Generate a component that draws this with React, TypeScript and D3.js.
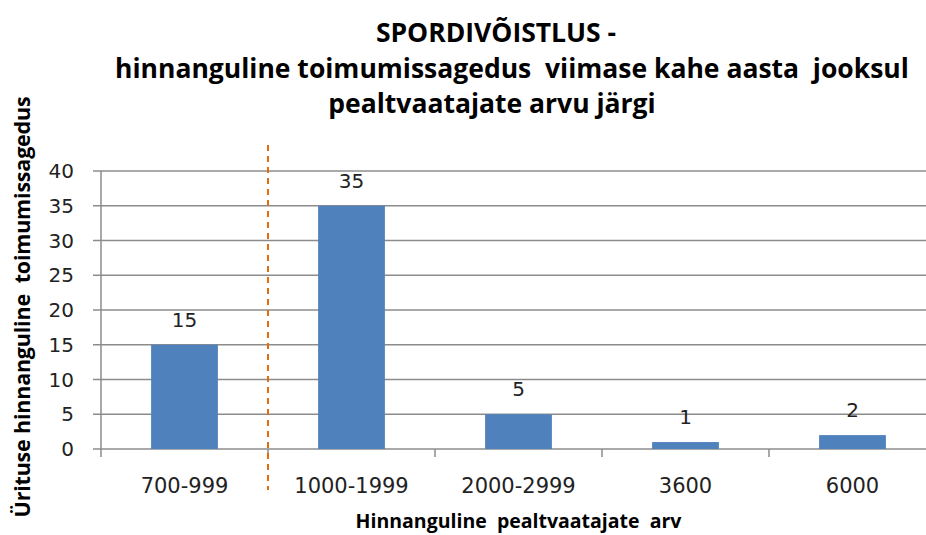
import React, { useEffect, useRef } from 'react';
import * as d3 from 'd3';

const categories = ['700-999', '1000-1999', '2000-2999', '3600', '6000'];
const counts = [15, 35, 5, 1, 2];
const yTicks = [0, 5, 10, 15, 20, 25, 30, 35, 40];
const titleLines = [
  'SPORDIVÕISTLUS -',
  'hinnanguline toimumissagedus  viimase kahe aasta  jooksul',
  'pealtvaatajate arvu järgi',
];

const App: React.FC = () => {
  const svgRef = useRef<SVGSVGElement>(null);

  useEffect(() => {
    if (!svgRef.current) return;
    const svg = d3.select(svgRef.current);
    svg.selectAll('*').remove();

    const width = 926, height = 535;
    const plot = { left: 101, right: 936, top: 171, bottom: 449 };

    const x = d3.scaleBand<string>().domain(categories).range([plot.left, plot.right]).paddingInner(0.6).paddingOuter(0.3);
    const xTicksScale = d3.scaleLinear().domain([0, categories.length]).range([plot.left, plot.right]);
    const y = d3.scaleLinear().domain([0, 40]).range([plot.bottom, plot.top]);

    svg.append('rect').attr('width', width).attr('height', height).attr('fill', '#fff');

    // title
    const title = svg.append('text')
      .attr('font-family', 'Open Sans, sans-serif')
      .attr('font-weight', 'bold')
      .attr('font-size', 26.5)
      .attr('fill', '#000')
      .attr('text-anchor', 'middle')
      .style('white-space', 'pre');
    const titleX = [496, 512, 492];
    const titleY = [42, 78, 113];
    titleLines.forEach((t, i) => {
      title.append('tspan').attr('x', titleX[i]).attr('y', titleY[i]).text(t);
    });

    // gridlines
    svg.append('g').selectAll('line').data(yTicks).enter().append('line')
      .attr('x1', plot.left - 8).attr('x2', plot.right)
      .attr('y1', d => y(d)).attr('y2', d => y(d))
      .attr('stroke', '#8c8c8c').attr('stroke-width', 1.5);

    // y axis
    svg.append('line')
      .attr('x1', plot.left).attr('x2', plot.left)
      .attr('y1', plot.top).attr('y2', plot.bottom + 8)
      .attr('stroke', '#8c8c8c').attr('stroke-width', 1.5);

    // x ticks
    svg.append('g').selectAll('line').data(d3.range(1, categories.length)).enter().append('line')
      .attr('x1', d => xTicksScale(d)).attr('x2', d => xTicksScale(d))
      .attr('y1', plot.bottom).attr('y2', plot.bottom + 8)
      .attr('stroke', '#8c8c8c').attr('stroke-width', 1.5);

    // y tick labels
    svg.append('g').selectAll('text').data(yTicks).enter().append('text')
      .attr('x', 74).attr('y', d => y(d)).attr('dy', '0.35em')
      .attr('text-anchor', 'end')
      .attr('font-family', 'DejaVu Sans, sans-serif').attr('font-size', 20)
      .attr('fill', '#222')
      .text(d => d);

    // bars
    svg.append('g').selectAll('rect').data(counts).enter().append('rect')
      .attr('x', (_, i) => x(categories[i])!)
      .attr('width', x.bandwidth())
      .attr('y', d => y(d))
      .attr('height', d => plot.bottom - y(d))
      .attr('fill', '#4f81bd');

    // value labels
    svg.append('g').selectAll('text').data(counts).enter().append('text')
      .attr('x', (_, i) => x(categories[i])! + x.bandwidth() / 2)
      .attr('y', d => y(d) - 25).attr('dy', '0.35em')
      .attr('text-anchor', 'middle')
      .attr('font-family', 'DejaVu Sans, sans-serif').attr('font-size', 20)
      .attr('fill', '#222')
      .text(d => d);

    // category labels
    svg.append('g').selectAll('text').data(categories).enter().append('text')
      .attr('x', d => x(d)! + x.bandwidth() / 2)
      .attr('y', 486).attr('dy', '0.35em')
      .attr('text-anchor', 'middle')
      .attr('font-family', 'DejaVu Sans, sans-serif').attr('font-size', 21)
      .attr('fill', '#222')
      .text(d => d);

    // dashed separator
    svg.append('line')
      .attr('x1', xTicksScale(1)).attr('x2', xTicksScale(1))
      .attr('y1', 145).attr('y2', 490)
      .attr('stroke', '#e46c0a').attr('stroke-width', 2)
      .attr('stroke-dasharray', '6,5');

    // axis titles
    svg.append('text')
      .attr('x', (plot.left + plot.right) / 2).attr('y', 528)
      .attr('text-anchor', 'middle')
      .attr('font-family', 'Open Sans, sans-serif').attr('font-weight', 'bold').attr('font-size', 19.5)
      .style('white-space', 'pre')
      .text('Hinnanguline  pealtvaatajate  arv');

    svg.append('text')
      .attr('transform', `translate(22,307) rotate(-90)`)
      .attr('dy', '0.35em')
      .attr('text-anchor', 'middle')
      .attr('font-family', 'Open Sans, sans-serif').attr('font-weight', 'bold').attr('font-size', 21.5)
      .attr('letter-spacing', -0.2)
      .style('white-space', 'pre')
      .text('Ürituse hinnanguline  toimumissagedus');
  }, []);

  return (
    <div style={{ position: 'fixed', left: 0, top: 0 }}>
      <svg ref={svgRef} width={926} height={535} style={{ display: 'block' }} />
    </div>
  );
};

export default App;
